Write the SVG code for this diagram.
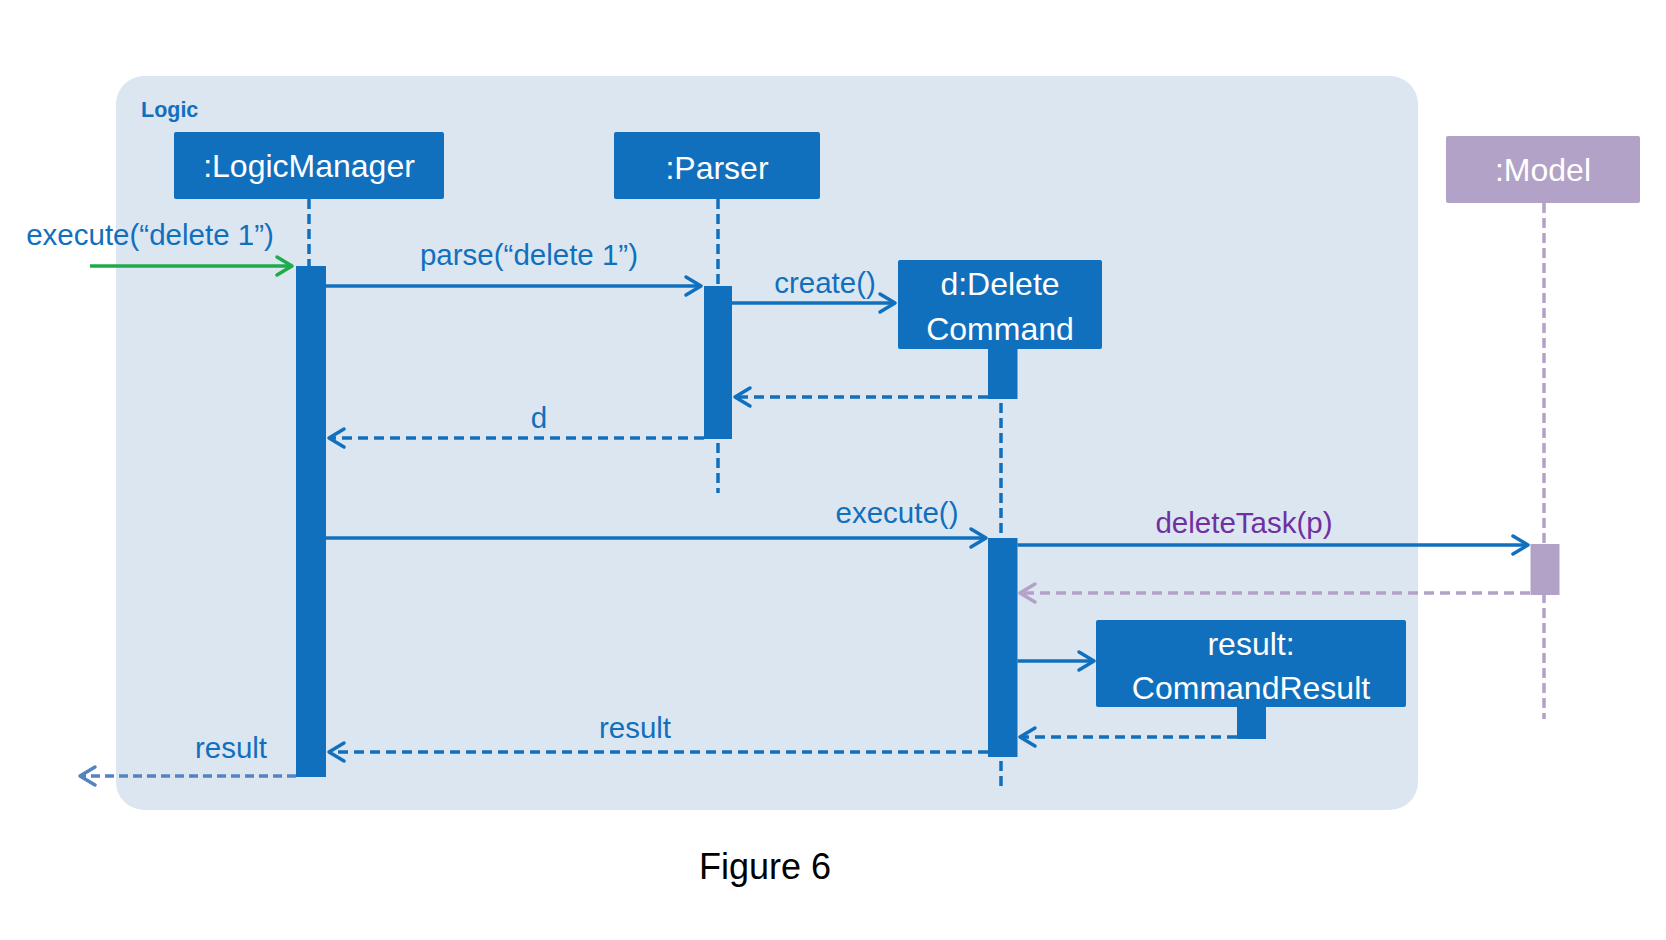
<svg xmlns="http://www.w3.org/2000/svg" width="1666" height="940" viewBox="0 0 1666 940">
  <style>
    text { font-family: "Liberation Sans", Arial, sans-serif; }
    .title { fill: #ffffff; font-size: 32px; text-anchor: middle; }
    .msg { fill: #1170BE; font-size: 29.5px; text-anchor: middle; }
    .box { fill: #1170BE; }
    .act { fill: #1170BE; }
    .life { stroke: #1170BE; stroke-width: 3.5; stroke-dasharray: 10 5; fill: none; }
    .call { stroke: #1170BE; stroke-width: 3.5; fill: none; marker-end: url(#hBlue); }
    .ret { stroke: #1170BE; stroke-width: 3.5; stroke-dasharray: 10 6; fill: none; marker-end: url(#hBlue); }
  </style>
  <defs>
    <marker id="hBlue" markerUnits="userSpaceOnUse" viewBox="-19 -12 22 24" markerWidth="22" markerHeight="24" refX="0" refY="0" orient="auto">
      <path d="M-15,-9 L0,0 L-15,9" fill="none" stroke="#1170BE" stroke-width="3.5" stroke-linecap="round" stroke-linejoin="round"/>
    </marker>
    <marker id="hGreen" markerUnits="userSpaceOnUse" viewBox="-19 -12 22 24" markerWidth="22" markerHeight="24" refX="0" refY="0" orient="auto">
      <path d="M-15,-9 L0,0 L-15,9" fill="none" stroke="#1DAB4C" stroke-width="3.5" stroke-linecap="round" stroke-linejoin="round"/>
    </marker>
    <marker id="hPurple" markerUnits="userSpaceOnUse" viewBox="-19 -12 22 24" markerWidth="22" markerHeight="24" refX="0" refY="0" orient="auto">
      <path d="M-15,-9 L0,0 L-15,9" fill="none" stroke="#B3A2C7" stroke-width="3.5" stroke-linecap="round" stroke-linejoin="round"/>
    </marker>
    <marker id="hLight" markerUnits="userSpaceOnUse" viewBox="-19 -12 22 24" markerWidth="22" markerHeight="24" refX="0" refY="0" orient="auto">
      <path d="M-15,-9 L0,0 L-15,9" fill="none" stroke="#5583C0" stroke-width="3.5" stroke-linecap="round" stroke-linejoin="round"/>
    </marker>
  </defs>

  <rect width="1666" height="940" fill="#ffffff"/>

  <g id="logic-frame">
    <rect x="116" y="76" width="1302" height="734" rx="28" fill="#DCE6F1"/>
    <text x="141" y="117" font-size="21.5" font-weight="bold" fill="#1170BE">Logic</text>
  </g>

  <g id="lifelines">
    <path class="life" d="M309,199 V266"/>
    <path class="life" d="M718,199 V286 M718,443 V493"/>
    <path class="life" d="M1001,403 V538 M1001,761 V789"/>
    <path class="life" d="M1544,203 V719" style="stroke:#B3A2C7"/>
  </g>

  <g id="logic-manager">
    <rect class="box" x="174" y="132" width="270" height="67" rx="2"/>
    <text class="title" x="309" y="177">:LogicManager</text>
    <rect class="act" x="296" y="266" width="30" height="511"/>
  </g>

  <g id="parser">
    <rect class="box" x="614" y="132" width="206" height="67" rx="2"/>
    <text class="title" x="717" y="179">:Parser</text>
    <rect class="act" x="704" y="286" width="28" height="153"/>
  </g>

  <g id="delete-command">
    <rect class="box" x="898" y="260" width="204" height="89" rx="2"/>
    <text class="title" x="1000" y="295">d:Delete</text>
    <text class="title" x="1000" y="340">Command</text>
    <rect class="act" x="988" y="349" width="29.5" height="50"/>
    <rect class="act" x="988" y="538" width="29.5" height="219"/>
  </g>

  <g id="command-result">
    <rect class="box" x="1096" y="620" width="310" height="87" rx="2"/>
    <text class="title" x="1251" y="655">result:</text>
    <text class="title" x="1251" y="699">CommandResult</text>
    <rect class="act" x="1237" y="707" width="29" height="32"/>
  </g>

  <g id="model">
    <rect x="1446" y="136" width="194" height="67" rx="2" fill="#B3A2C7"/>
    <text class="title" x="1543" y="181">:Model</text>
    <rect x="1530.5" y="544" width="29" height="51" fill="#B3A2C7"/>
  </g>

  <g id="connectors">
    <path d="M90,266 H292" stroke="#1DAB4C" stroke-width="3.5" fill="none" marker-end="url(#hGreen)"/>
    <path class="call" d="M326,286 H701"/>
    <path class="call" d="M732,303 H895"/>
    <path class="ret" d="M988,397 H735"/>
    <path class="ret" d="M704,438 H329"/>
    <path class="call" d="M326,538 H986"/>
    <path class="call" d="M1017.5,545 H1528"/>
    <path d="M1530,593 H1020" stroke="#B3A2C7" stroke-width="3.5" stroke-dasharray="10 6" fill="none" marker-end="url(#hPurple)"/>
    <path class="call" d="M1017.5,661 H1094"/>
    <path class="ret" d="M1237,737 H1020"/>
    <path class="ret" d="M988,752 H329"/>
    <path d="M296,776 H80" stroke="#5583C0" stroke-width="3.5" stroke-dasharray="9 5" fill="none" marker-end="url(#hLight)"/>
  </g>

  <g id="labels">
    <text class="msg" x="150" y="245">execute(“delete 1”)</text>
    <text class="msg" x="529" y="265">parse(“delete 1”)</text>
    <text class="msg" x="825" y="293">create()</text>
    <text class="msg" x="539" y="428">d</text>
    <text class="msg" x="897" y="523">execute()</text>
    <text class="msg" x="1244" y="533" style="fill:#7030A0">deleteTask(p)</text>
    <text class="msg" x="635" y="738">result</text>
    <text class="msg" x="231" y="758">result</text>
  </g>

  <text x="765" y="879" font-size="36" fill="#000000" text-anchor="middle">Figure 6</text>
</svg>
